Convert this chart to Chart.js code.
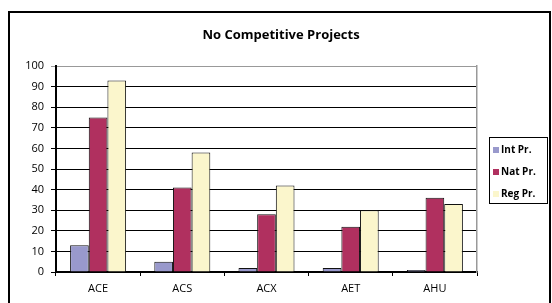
<!DOCTYPE html>
<html><head><meta charset="utf-8">
<script src="https://cdn.jsdelivr.net/npm/chart.js@4.4.1/dist/chart.umd.min.js"></script>
<style>html,body{margin:0;padding:0;background:#fff;overflow:hidden}#wrap{width:552px;height:303px;position:relative}</style>
</head><body><div id="wrap"><canvas id="c" width="552" height="303"></canvas></div>
<script>
const categories = ['ACE', 'ACS', 'ACX', 'AET', 'AHU'];
const seriesNames = ['Int Pr.', 'Nat Pr.', 'Reg Pr.'];
const intPr = [13, 5, 2, 2, 1];
const natPr = [75, 41, 28, 22, 36];
const regPr = [93, 58, 42, 30, 33];
const yTickValues = [0, 10, 20, 30, 40, 50, 60, 70, 80, 90, 100];
const seriesColors = ['#9999cc', '#b0305f', '#fbf6cc'];
const titleText = 'No Competitive Projects';

Chart.defaults.font.family = "'Open Sans', 'DejaVu Sans', sans-serif";
Chart.defaults.color = '#000';

const framePlugin = {
  id: 'frame',
  beforeDraw(chart) {
    const ctx = chart.ctx;
    ctx.save();
    ctx.fillStyle = '#fff';
    ctx.fillRect(0, 0, chart.width, chart.height);
    ctx.strokeStyle = '#000';
    ctx.lineWidth = 2;
    ctx.strokeRect(9, 12, 541, 300);
    ctx.restore();
  }
};

const boxLegendPlugin = {
  id: 'boxLegend',
  afterDraw(chart) {
    const ctx = chart.ctx;
    ctx.save();
    ctx.strokeStyle = '#000';
    ctx.lineWidth = 1;
    ctx.strokeRect(489.5, 137.5, 58, 66);
    ctx.font = "bold 10px 'Open Sans', sans-serif";
    ctx.textBaseline = 'middle';
    ctx.textAlign = 'left';
    const ys = [150, 172, 194];
    chart.data.datasets.forEach((ds, i) => {
      ctx.fillStyle = ds.backgroundColor;
      ctx.fillRect(493, ys[i] - 3, 6, 6);
      ctx.fillStyle = '#000';
      ctx.fillText(ds.label, 501, ys[i]);
    });
    ctx.restore();
  }
};

new Chart(document.getElementById('c'), {
  type: 'bar',
  data: {
    labels: categories,
    datasets: [
      { label: seriesNames[0], data: intPr, backgroundColor: seriesColors[0] },
      { label: seriesNames[1], data: natPr, backgroundColor: seriesColors[1] },
      { label: seriesNames[2], data: regPr, backgroundColor: seriesColors[2] }
    ].map(d => Object.assign(d, { borderColor: '#111', borderWidth: 1, borderSkipped: 'bottom', categoryPercentage: 0.665, barPercentage: 1.0 }))
  },
  options: {
    responsive: false,
    animation: false,
    layout: { padding: { left: 10, right: 0, top: 0, bottom: 0 } },
    plugins: {
      legend: { display: false },
      tooltip: { enabled: false },
      title: {
        display: true,
        text: titleText,
        color: '#000',
        font: { size: 13, weight: 'bold', lineHeight: 1.2 },
        padding: { top: 27, bottom: 23.4 }
      }
    },
    scales: {
      x: {
        grid: { display: true, drawOnChartArea: false, drawTicks: true, tickLength: 4, color: '#000', lineWidth: 1, offset: true },
        border: { display: true, color: '#000', width: 2 },
        ticks: { font: { size: 11 }, padding: 6, color: '#000', maxRotation: 0 },
        afterFit(s) { s.height = 31; }
      },
      y: {
        min: 0, max: 100,
        afterBuildTicks(s) { s.ticks = yTickValues.map(v => ({ value: v })); },
        grid: {
          color: c => (c.tick && c.tick.value === 100 ? '#999' : '#000'),
          lineWidth: 1,
          tickLength: 5,
          drawTicks: true
        },
        border: { display: true, color: '#000', width: 2 },
        ticks: { font: { size: 11 }, padding: 7, color: '#000' },
        afterFit(s) { s.width = 46; }
      },
      y2: {
        position: 'right',
        display: true,
        grid: { display: false },
        ticks: { display: false },
        border: { display: true, color: '#999', width: 1.5 },
        afterFit(s) { s.width = 75; }
      }
    }
  },
  plugins: [framePlugin, boxLegendPlugin]
});
</script>
</body></html>
